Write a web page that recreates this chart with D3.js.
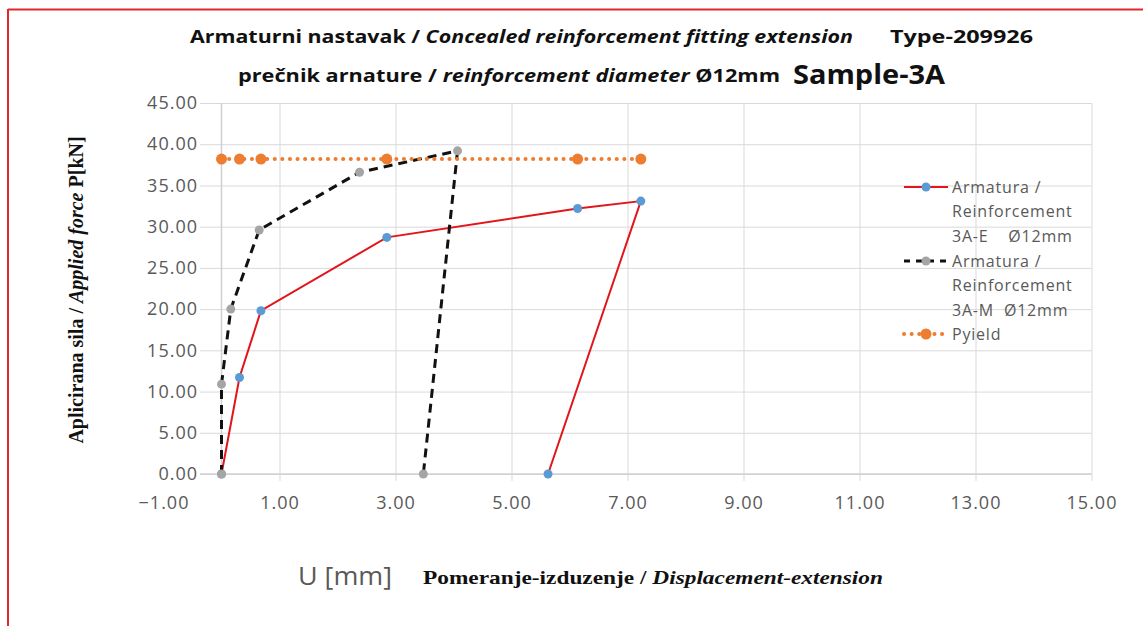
<!DOCTYPE html>
<html>
<head>
<meta charset="utf-8">
<script src="https://cdn.jsdelivr.net/npm/d3@7"></script>
<style>
  body { margin: 0; background: #fff; }
  svg { display: block; }
  .tick text { fill: #595959; font-family: "Open Sans", sans-serif; font-size: 18px; letter-spacing: 1px; }
</style>
</head>
<body>
<svg id="chart" width="1143" height="626"></svg>
<script>
// data
var seriesE_x = [0, 0.31, 0.68, 2.85, 6.14, 7.23, 5.63];
var seriesE_y = [0, 11.7, 19.8, 28.7, 32.2, 33.1, 0];

var seriesM_x = [0, 0, 0.16, 0.65, 2.38, 4.07, 3.48];
var seriesM_y = [0, 10.9, 20.0, 29.6, 36.6, 39.2, 0];

var yield_x = [0, 0.31, 0.68, 2.85, 6.14, 7.23];
var yield_y = [38.2, 38.2, 38.2, 38.2, 38.2, 38.2];

var xTicks = [-1, 1, 3, 5, 7, 9, 11, 13, 15];
var yTicks = [0, 5, 10, 15, 20, 25, 30, 35, 40, 45];

var legendE = ["Armatura /", "Reinforcement", "3A-E    \u00d812mm"];
var legendM = ["Armatura /", "Reinforcement", "3A-M  \u00d812mm"];
var legendY = ["Pyield"];

var svg = d3.select("#chart");

// page frame (red edge top / left)
svg.append("line").attr("x1", 8).attr("y1", 9.5).attr("x2", 1143).attr("y2", 9.5)
    .style("stroke", "#e3262b").style("stroke-width", 2);
svg.append("line").attr("x1", 8).attr("y1", 9).attr("x2", 8).attr("y2", 626)
    .style("stroke", "#e3262b").style("stroke-width", 2);

var x = d3.scaleLinear().domain([-1, 15]).range([163.5, 1091.5]);
var y = d3.scaleLinear().domain([0, 45]).range([474, 103]);
var gridLeft = 200;
var fmt = d3.format(".2f");

// horizontal grid + y labels
var yAxis = svg.append("g")
    .attr("transform", "translate(" + gridLeft + ",0)")
    .call(d3.axisLeft(y).tickValues(yTicks).tickFormat(fmt)
        .tickSize(-(x(15) - gridLeft)).tickPadding(3));
yAxis.select(".domain").remove();
yAxis.selectAll(".tick line").style("stroke", "#d9d9d9");
yAxis.selectAll(".tick text").attr("x", -2);

// vertical grid + x labels
var xAxis = svg.append("g")
    .attr("transform", "translate(0,481)")
    .call(d3.axisBottom(x).tickValues(xTicks).tickFormat(fmt)
        .tickSize(-(481 - y(45))).tickPadding(0));
xAxis.select(".domain").remove();
xAxis.selectAll(".tick line").style("stroke", "#d9d9d9");
xAxis.selectAll(".tick").filter(function(d){ return d === -1; }).select("line").remove();
xAxis.selectAll(".tick text").attr("y", 22).attr("dy", "0.35em");

// axis lines
svg.append("line").attr("x1", gridLeft).attr("x2", x(15)).attr("y1", y(0)).attr("y2", y(0))
    .style("stroke", "#d0d0d0").style("stroke-width", 1.5);
svg.append("line").attr("x1", x(0)).attr("x2", x(0)).attr("y1", y(45)).attr("y2", y(0))
    .style("stroke", "#d0d0d0").style("stroke-width", 1.5);

var line = d3.line().x(function(d){ return x(d[0]); }).y(function(d){ return y(d[1]); });

function drawSeries(xs, ys, stroke, width, dash, cap, marker, r) {
    var pts = d3.zip(xs, ys);
    svg.append("path").datum(pts)
        .attr("d", line)
        .style("fill", "none")
        .style("stroke", stroke)
        .style("stroke-width", width)
        .style("stroke-dasharray", dash)
        .style("stroke-linecap", cap);
    svg.append("g").selectAll("circle").data(pts).enter()
        .append("circle")
        .attr("cx", function(d){ return x(d[0]); })
        .attr("cy", function(d){ return y(d[1]); })
        .attr("r", r)
        .style("fill", marker);
}

drawSeries(seriesE_x, seriesE_y, "#e2151b", 2, null, "butt", "#5b9bd5", 4.5);
drawSeries(seriesM_x, seriesM_y, "#111", 3, "9,6", "butt", "#a5a5a5", 4.5);
drawSeries(yield_x, yield_y, "#ed7d31", 4, "0.1,7.5", "round", "#ed7d31", 5.5);

// legend
var legend = [
    { lines: legendE, y: 187, stroke: "#e2151b", width: 2, dash: null, cap: "butt", marker: "#5b9bd5", r: 4.5 },
    { lines: legendM, y: 261, stroke: "#111", width: 3, dash: "6,6", cap: "butt", marker: "#a5a5a5", r: 4.5 },
    { lines: legendY, y: 334, stroke: "#ed7d31", width: 4, dash: "0.1,7.5", cap: "round", marker: "#ed7d31", r: 5.5 }
];
legend.forEach(function(l){
    svg.append("line").attr("x1", 904).attr("x2", 948).attr("y1", l.y).attr("y2", l.y)
        .style("stroke", l.stroke).style("stroke-width", l.width)
        .style("stroke-dasharray", l.dash).style("stroke-linecap", l.cap);
    svg.append("circle").attr("cx", 926).attr("cy", l.y).attr("r", l.r).style("fill", l.marker);
    l.lines.forEach(function(t, i){
        svg.append("text").attr("x", 952).attr("y", l.y + i * 24.5).attr("dy", "0.35em")
            .style("font-family", "'Open Sans', sans-serif").style("font-size", "16px")
            .style("letter-spacing", "0.8px")
            .style("fill", "#595959").style("white-space", "pre").text(t);
    });
});

// titles (reference is horizontally stretched, so fit each run to its width)
function titleText(xPos, yPos, size, len, family) {
    return svg.append("text").attr("x", xPos).attr("y", yPos)
        .attr("textLength", len).attr("lengthAdjust", "spacingAndGlyphs")
        .style("font-family", family || "'Open Sans', sans-serif").style("font-size", size + "px")
        .style("font-weight", "bold").style("fill", "#111");
}

var t1 = titleText(190, 43, 17, 663);
t1.append("tspan").text("Armaturni nastavak / ");
t1.append("tspan").style("font-style", "italic").text("Concealed reinforcement fitting extension");
titleText(890, 43, 17, 143).text("Type-209926");

var t2 = titleText(238, 82, 17, 542);
t2.append("tspan").text("pre\u010dnik arnature / ");
t2.append("tspan").style("font-style", "italic").text("reinforcement diameter");
t2.append("tspan").text(" \u00d812mm");
titleText(793, 84, 26, 152).text("Sample-3A");

// y title
var yt = svg.append("text")
    .attr("transform", "translate(83,290) rotate(-90)")
    .style("text-anchor", "middle")
    .style("font-family", "'Liberation Serif', serif").style("font-size", "20px")
    .style("font-weight", "bold").style("fill", "#111");
yt.append("tspan").text("Aplicirana sila / ");
yt.append("tspan").style("font-style", "italic").text("Applied force");
yt.append("tspan").text(" P[kN]");

// x title
svg.append("text").attr("x", 298).attr("y", 585)
    .attr("textLength", 94).attr("lengthAdjust", "spacingAndGlyphs")
    .style("font-family", "'Open Sans', sans-serif").style("font-size", "25px")
    .style("fill", "#595959").text("U [mm]");
var xt = titleText(423, 584, 19, 460, "'Liberation Serif', serif");
xt.append("tspan").text("Pomeranje-izduzenje / ");
xt.append("tspan").style("font-style", "italic").text("Displacement-extension");
</script>
</body>
</html>
